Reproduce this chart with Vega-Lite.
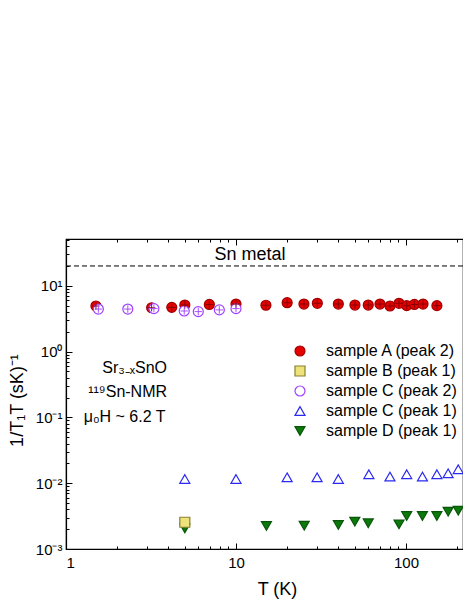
{
  "$schema": "https://vega.github.io/schema/vega-lite/v6.json",
  "autosize": {"type": "none"},
  "padding": {"left": 66, "top": 239, "right": 0, "bottom": 50},
  "width": 397,
  "height": 310,
  "config": {
    "font": "Liberation Sans",
    "view": {"stroke": "black", "strokeWidth": 1.2},
    "axis": {"grid": false, "domainColor": "black", "tickColor": "black", "domainWidth": 1.2, "tickWidth": 1, "labelColor": "black", "titleColor": "black", "labelFontSize": 15, "titleFontSize": 18, "titleFontWeight": "normal"}
  },
  "datasets": {
    "pts": [
      {"series": "sample A (peak 2)", "T": 1.5, "V": 4.93},
      {"series": "sample A (peak 2)", "T": 3.19, "V": 4.64},
      {"series": "sample A (peak 2)", "T": 4.19, "V": 4.7},
      {"series": "sample A (peak 2)", "T": 5.0, "V": 5.1},
      {"series": "sample A (peak 2)", "T": 6.97, "V": 5.2},
      {"series": "sample A (peak 2)", "T": 10, "V": 5.28},
      {"series": "sample A (peak 2)", "T": 15, "V": 5.06},
      {"series": "sample A (peak 2)", "T": 20, "V": 5.53},
      {"series": "sample A (peak 2)", "T": 25.1, "V": 5.28},
      {"series": "sample A (peak 2)", "T": 30.1, "V": 5.42},
      {"series": "sample A (peak 2)", "T": 40, "V": 5.28},
      {"series": "sample A (peak 2)", "T": 50.1, "V": 5.1},
      {"series": "sample A (peak 2)", "T": 60, "V": 5.1},
      {"series": "sample A (peak 2)", "T": 70.3, "V": 5.28},
      {"series": "sample A (peak 2)", "T": 80.5, "V": 4.93},
      {"series": "sample A (peak 2)", "T": 91, "V": 5.42},
      {"series": "sample A (peak 2)", "T": 101, "V": 4.99},
      {"series": "sample A (peak 2)", "T": 112, "V": 5.2},
      {"series": "sample A (peak 2)", "T": 126, "V": 5.28},
      {"series": "sample A (peak 2)", "T": 152, "V": 4.99},
      {"series": "sample D (peak 1)", "T": 5.0, "V": 0.00206},
      {"series": "sample D (peak 1)", "T": 15.1, "V": 0.00224},
      {"series": "sample D (peak 1)", "T": 25.2, "V": 0.00226},
      {"series": "sample D (peak 1)", "T": 40, "V": 0.00232},
      {"series": "sample D (peak 1)", "T": 50, "V": 0.0026},
      {"series": "sample D (peak 1)", "T": 60, "V": 0.00246},
      {"series": "sample D (peak 1)", "T": 91, "V": 0.00237},
      {"series": "sample D (peak 1)", "T": 101, "V": 0.00317},
      {"series": "sample D (peak 1)", "T": 125, "V": 0.00317},
      {"series": "sample D (peak 1)", "T": 152, "V": 0.00317},
      {"series": "sample D (peak 1)", "T": 177, "V": 0.00369},
      {"series": "sample D (peak 1)", "T": 203, "V": 0.00382},
      {"series": "sample C (peak 1)", "T": 5.0, "V": 0.0116},
      {"series": "sample C (peak 1)", "T": 10, "V": 0.0116},
      {"series": "sample C (peak 1)", "T": 20, "V": 0.0123},
      {"series": "sample C (peak 1)", "T": 30, "V": 0.0123},
      {"series": "sample C (peak 1)", "T": 40, "V": 0.0116},
      {"series": "sample C (peak 1)", "T": 60.5, "V": 0.0137},
      {"series": "sample C (peak 1)", "T": 80.5, "V": 0.0126},
      {"series": "sample C (peak 1)", "T": 101, "V": 0.0137},
      {"series": "sample C (peak 1)", "T": 125, "V": 0.0126},
      {"series": "sample C (peak 1)", "T": 152, "V": 0.0137},
      {"series": "sample C (peak 1)", "T": 177, "V": 0.0141},
      {"series": "sample C (peak 1)", "T": 203, "V": 0.0163},
      {"series": "sample C (peak 2)", "T": 1.55, "V": 4.43},
      {"series": "sample C (peak 2)", "T": 2.31, "V": 4.43},
      {"series": "sample C (peak 2)", "T": 3.29, "V": 4.5},
      {"series": "sample C (peak 2)", "T": 4.96, "V": 4.14},
      {"series": "sample C (peak 2)", "T": 6.0, "V": 4.05},
      {"series": "sample C (peak 2)", "T": 7.98, "V": 4.3},
      {"series": "sample C (peak 2)", "T": 10, "V": 4.5},
      {"series": "sample B (peak 1)", "T": 5.0, "V": 0.00255}
    ]
  },
  "layer": [
    {
      "data": {"values": [{"V": 20}]},
      "mark": {"type": "rule", "strokeDash": [5, 3], "color": "black", "strokeWidth": 1},
      "encoding": {
        "y": {"field": "V", "type": "quantitative", "scale": {"type": "log", "domain": [0.001, 51.4], "nice": false}, "axis": null}
      }
    },
    {
      "data": {"name": "pts"},
      "mark": {"type": "point", "opacity": 1, "fillOpacity": 1, "strokeWidth": 1.2, "size": 100},
      "encoding": {
        "x": {"field": "T", "type": "quantitative", "scale": {"type": "log", "domain": [1, 216.5], "nice": false},
          "axis": {"orient": "bottom", "values": [1, 10, 100], "format": "d", "tickSize": -6, "labelPadding": 12, "title": "T (K)", "titleX": 211, "titleY": 45, "titleBaseline": "alphabetic", "titleAlign": "center"}},
        "y": {"field": "V", "type": "quantitative", "scale": {"type": "log", "domain": [0.001, 51.4], "nice": false},
          "axis": {"orient": "left", "values": [0.001, 0.01, 0.1, 1, 10], "tickSize": -6, "labelPadding": 10,
            "labelExpr": "datum.value < 0.005 ? '10⁻³' : datum.value < 0.05 ? '10⁻²' : datum.value < 0.5 ? '10⁻¹' : datum.value < 5 ? '10⁰' : '10¹'",
            "title": "1/T₁T (sK)⁻¹", "titleX": -44, "titleY": 161, "titleBaseline": "alphabetic", "titleAlign": "center", "titleAngle": -90}},
        "fill": {"field": "series", "type": "nominal",
          "scale": {"domain": ["sample A (peak 2)", "sample B (peak 1)", "sample C (peak 2)", "sample C (peak 1)", "sample D (peak 1)"], "range": ["#E60000", "#EEE27A", "white", "white", "#0B7A0B"]},
          "legend": {"orient": "none", "legendX": 226, "legendY": 104, "title": null, "labelFontSize": 16, "symbolSize": 100, "rowPadding": 4, "labelOffset": 18, "padding": 0, "symbolStrokeWidth": 1.2, "labelColor": "black"}},
        "stroke": {"field": "series", "type": "nominal",
          "scale": {"domain": ["sample A (peak 2)", "sample B (peak 1)", "sample C (peak 2)", "sample C (peak 1)", "sample D (peak 1)"], "range": ["#A00000", "#8A8030", "#A040FF", "#2A2AF0", "#0A550A"]},
          "legend": {"orient": "none", "legendX": 226, "legendY": 104, "title": null, "labelFontSize": 16, "symbolSize": 100, "rowPadding": 4, "labelOffset": 18, "padding": 0, "symbolStrokeWidth": 1.2, "labelColor": "black"}},
        "shape": {"field": "series", "type": "nominal",
          "scale": {"domain": ["sample A (peak 2)", "sample B (peak 1)", "sample C (peak 2)", "sample C (peak 1)", "sample D (peak 1)"], "range": ["circle", "square", "circle", "triangle-up", "triangle-down"]},
          "legend": {"orient": "none", "legendX": 226, "legendY": 104, "title": null, "labelFontSize": 16, "symbolSize": 100, "rowPadding": 4, "labelOffset": 18, "padding": 0, "symbolStrokeWidth": 1.2, "labelColor": "black"}}
      }
    },
    {
      "data": {"name": "pts"},
      "transform": [{"filter": "datum.series == 'sample A (peak 2)'"}],
      "mark": {"type": "point", "shape": "M-0.75,0H0.75M0,-0.75V0.75", "size": 100, "stroke": "#7A0000", "strokeWidth": 0.9, "fill": null, "opacity": 1},
      "encoding": {
        "x": {"field": "T", "type": "quantitative", "scale": {"type": "log", "domain": [1, 216.5], "nice": false}, "axis": null},
        "y": {"field": "V", "type": "quantitative", "scale": {"type": "log", "domain": [0.001, 51.4], "nice": false}, "axis": null}
      }
    },
    {
      "data": {"name": "pts"},
      "transform": [{"filter": "datum.series == 'sample C (peak 2)'"}],
      "mark": {"type": "point", "shape": "M-0.75,0H0.75M0,-0.75V0.75", "size": 100, "stroke": "#A040FF", "strokeWidth": 0.9, "fill": null, "opacity": 1},
      "encoding": {
        "x": {"field": "T", "type": "quantitative", "scale": {"type": "log", "domain": [1, 216.5], "nice": false}, "axis": null},
        "y": {"field": "V", "type": "quantitative", "scale": {"type": "log", "domain": [0.001, 51.4], "nice": false}, "axis": null}
      }
    },
    {
      "data": {"values": [{"label": "Sn metal", "T": 12.1, "V": 29.4}]},
      "mark": {"type": "text", "fontSize": 18, "align": "center", "baseline": "middle", "color": "black"},
      "encoding": {
        "text": {"field": "label"},
        "x": {"field": "T", "type": "quantitative", "scale": {"type": "log", "domain": [1, 216.5], "nice": false},
          "axis": {"orient": "top", "values": [1, 10, 100], "tickSize": -6, "labels": false, "title": null, "domain": true, "ticks": true, "offset": 0}},
        "y": {"field": "V", "type": "quantitative", "scale": {"type": "log", "domain": [0.001, 51.4], "nice": false},
          "axis": {"orient": "left", "values": [0.002,0.003,0.004,0.005,0.006,0.007,0.008,0.009,0.02,0.03,0.04,0.05,0.06,0.07,0.08,0.09,0.2,0.3,0.4,0.5,0.6,0.7,0.8,0.9,2,3,4,5,6,7,8,9,20,30,40,50], "tickSize": -3, "labels": false, "title": null, "domain": false}}
      }
    },
    {
      "data": {"values": [{"label": "Sr₃₋ₓSnO", "T": 3.93, "V": 0.564}]},
      "mark": {"type": "text", "fontSize": 16, "align": "right", "baseline": "middle", "color": "black"},
      "encoding": {
        "text": {"field": "label"},
        "x": {"field": "T", "type": "quantitative", "scale": {"type": "log", "domain": [1, 216.5], "nice": false},
          "axis": {"orient": "bottom", "values": [2,3,4,5,6,7,8,9,20,30,40,50,60,70,80,90,200], "tickSize": -3, "labels": false, "title": null, "domain": false}},
        "y": {"field": "V", "type": "quantitative", "scale": {"type": "log", "domain": [0.001, 51.4], "nice": false}, "axis": null}
      }
    },
    {
      "data": {"values": [{"label": "¹¹⁹Sn-NMR", "T": 3.93, "V": 0.243}, {"label": "μ₀H ~ 6.2 T", "T": 3.85, "V": 0.101}]},
      "mark": {"type": "text", "fontSize": 16, "align": "right", "baseline": "middle", "color": "black"},
      "encoding": {
        "text": {"field": "label"},
        "x": {"field": "T", "type": "quantitative", "scale": {"type": "log", "domain": [1, 216.5], "nice": false},
          "axis": {"orient": "top", "values": [2,3,4,5,6,7,8,9,20,30,40,50,60,70,80,90,200], "tickSize": -3, "labels": false, "title": null, "domain": false, "offset": 0}},
        "y": {"field": "V", "type": "quantitative", "scale": {"type": "log", "domain": [0.001, 51.4], "nice": false}, "axis": null}
      }
    }
  ],
  "resolve": {"axis": {"x": "independent", "y": "independent"}}
}
